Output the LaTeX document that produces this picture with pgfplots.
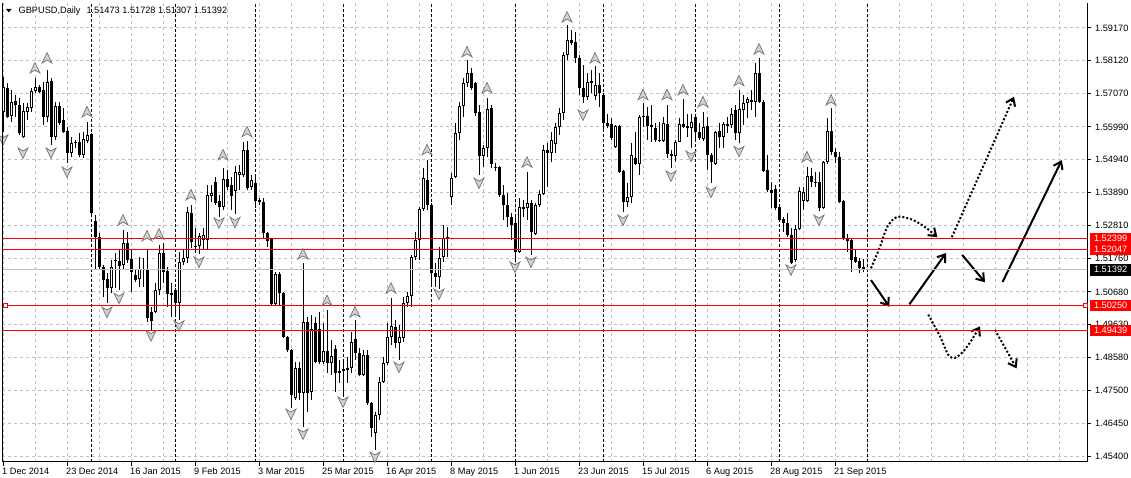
\documentclass[border=0pt]{standalone}
\usepackage{fontspec}
\setmainfont{Liberation Sans}
\usepackage{pgfplots}
\usepackage{pgfplotstable}
\pgfplotsset{compat=1.18}
\usetikzlibrary{arrows.meta}

\newcommand\mt{\fontsize{9.2pt}{11pt}\selectfont}
\definecolor{gridgray}{RGB}{192,192,192}
\definecolor{lvlred}{RGB}{255,0,0}

% fractal arrows
\pgfdeclareplotmark{fup}{%
  \pgfpathmoveto{\pgfqpoint{0pt}{5.5pt}}\pgfpathlineto{\pgfqpoint{5pt}{-5pt}}%
  \pgfpathlineto{\pgfqpoint{0pt}{-2pt}}\pgfpathlineto{\pgfqpoint{-5pt}{-5pt}}%
  \pgfpathclose\pgfusepathqfillstroke}
\pgfdeclareplotmark{fdn}{%
  \pgfpathmoveto{\pgfqpoint{0pt}{-5.5pt}}\pgfpathlineto{\pgfqpoint{5pt}{5pt}}%
  \pgfpathlineto{\pgfqpoint{0pt}{2pt}}\pgfpathlineto{\pgfqpoint{-5pt}{5pt}}%
  \pgfpathclose\pgfusepathqfillstroke}

\pgfplotsset{
  candle/.style={only marks, mark=*, mark size=0.5pt, mark options={opacity=0},
    error bars/.cd, y dir=plus, y explicit, error mark=none},
  fractal/.style={only marks, mark options={fill=gray!35, draw=gray!90!black, line width=0.7pt}},
  level/.style={line width=1pt, mark=none},
}

% daily bars, index 0 = 1 Dec 2014; hollow (up) bars
\pgfplotstableread{
i o h l c
0 1.5647 1.5759 1.5583 1.5727
2 1.5634 1.5718 1.5615 1.5679
5 1.5567 1.5676 1.5563 1.5650
6 1.5647 1.5676 1.5621 1.5663
7 1.5660 1.5724 1.5647 1.5714
8 1.5714 1.5756 1.5708 1.5727
11 1.5630 1.5782 1.5615 1.5743
13 1.5567 1.5679 1.5557 1.5666
17 1.5515 1.5567 1.5502 1.5547
20 1.5509 1.5583 1.5499 1.5560
21 1.5554 1.5615 1.5547 1.5573
27 1.5080 1.5171 1.5064 1.5148
30 1.5155 1.5267 1.5139 1.5225
34 1.5109 1.5180 1.5084 1.5142
38 1.5003 1.5097 1.5000 1.5074
39 1.5074 1.5219 1.5058 1.5194
44 1.5032 1.5196 1.4978 1.5164
45 1.5164 1.5203 1.5155 1.5177
46 1.5177 1.5341 1.5161 1.5325
49 1.5216 1.5258 1.5190 1.5248
50 1.5235 1.5273 1.5203 1.5251
51 1.5235 1.5412 1.5203 1.5380
52 1.5377 1.5412 1.5357 1.5386
55 1.5341 1.5467 1.5332 1.5431
58 1.5393 1.5473 1.5320 1.5454
59 1.5444 1.5476 1.5396 1.5454
60 1.5444 1.5551 1.5438 1.5525
62 1.5405 1.5444 1.5396 1.5428
68 1.5029 1.5132 1.5026 1.5126
73 1.4726 1.4842 1.4720 1.4823
75 1.4743 1.5161 1.4633 1.4971
77 1.4746 1.4994 1.4720 1.4949
80 1.4842 1.4968 1.4836 1.4878
82 1.4839 1.4913 1.4801 1.4862
87 1.4823 1.4939 1.4807 1.4907
90 1.4801 1.4881 1.4797 1.4865
93 1.4614 1.4682 1.4560 1.4672
94 1.4672 1.4794 1.4656 1.4778
95 1.4778 1.4858 1.4775 1.4839
96 1.4839 1.4968 1.4833 1.4923
97 1.4923 1.5048 1.4897 1.4959
99 1.4904 1.4962 1.4849 1.4923
100 1.4920 1.5052 1.4907 1.5032
101 1.5032 1.5068 1.5019 1.5055
102 1.5055 1.5187 1.5019 1.5180
103 1.5180 1.5261 1.5171 1.5235
104 1.5235 1.5341 1.5171 1.5335
105 1.5335 1.5467 1.5328 1.5434
109 1.5116 1.5212 1.5077 1.5177
110 1.5180 1.5283 1.5164 1.5242
112 1.5374 1.5450 1.5348 1.5434
113 1.5438 1.5611 1.5434 1.5579
114 1.5579 1.5679 1.5557 1.5666
115 1.5666 1.5756 1.5630 1.5740
116 1.5740 1.5814 1.5727 1.5772
120 1.5505 1.5541 1.5470 1.5531
121 1.5531 1.5692 1.5502 1.5656
129 1.5196 1.5370 1.5194 1.5341
131 1.5338 1.5454 1.5299 1.5354
133 1.5254 1.5354 1.5251 1.5348
134 1.5348 1.5396 1.5341 1.5383
135 1.5383 1.5541 1.5380 1.5525
137 1.5515 1.5583 1.5486 1.5557
138 1.5544 1.5611 1.5515 1.5599
139 1.5599 1.5660 1.5573 1.5644
140 1.5644 1.5840 1.5621 1.5830
141 1.5830 1.5927 1.5814 1.5878
146 1.5695 1.5772 1.5685 1.5743
148 1.5698 1.5795 1.5685 1.5734
153 1.5534 1.5605 1.5531 1.5602
156 1.5357 1.5418 1.5341 1.5374
157 1.5374 1.5547 1.5354 1.5509
159 1.5479 1.5637 1.5444 1.5630
165 1.5554 1.5630 1.5551 1.5611
168 1.5505 1.5557 1.5486 1.5551
169 1.5551 1.5627 1.5551 1.5608
172 1.5596 1.5640 1.5531 1.5615
175 1.5560 1.5647 1.5554 1.5599
178 1.5479 1.5586 1.5476 1.5583
180 1.5567 1.5615 1.5531 1.5608
182 1.5605 1.5660 1.5596 1.5640
184 1.5579 1.5718 1.5547 1.5656
185 1.5653 1.5702 1.5605 1.5676
186 1.5676 1.5695 1.5627 1.5689
188 1.5679 1.5804 1.5630 1.5772
198 1.5171 1.5283 1.5164 1.5270
199 1.5270 1.5405 1.5267 1.5393
200 1.5360 1.5405 1.5332 1.5389
201 1.5360 1.5470 1.5357 1.5441
205 1.5338 1.5490 1.5335 1.5486
206 1.5486 1.5627 1.5479 1.5586
}\bull

% filled (down) bars and very small bodies
\pgfplotstableread{
i o h l c
1 1.5724 1.5740 1.5627 1.5630
3 1.5682 1.5702 1.5630 1.5669
4 1.5669 1.5692 1.5573 1.5579
9 1.5727 1.5734 1.5708 1.5711
10 1.5718 1.5743 1.5605 1.5630
12 1.5747 1.5756 1.5541 1.5567
14 1.5666 1.5679 1.5605 1.5611
15 1.5621 1.5660 1.5579 1.5583
16 1.5586 1.5599 1.5483 1.5515
18 1.5551 1.5557 1.5531 1.5547
19 1.5551 1.5579 1.5502 1.5509
22 1.5576 1.5579 1.5315 1.5322
23 1.5296 1.5315 1.5139 1.5245
24 1.5245 1.5258 1.5139 1.5148
25 1.5148 1.5155 1.5052 1.5106
26 1.5109 1.5129 1.5032 1.5080
28 1.5168 1.5194 1.5080 1.5171
29 1.5168 1.5203 1.5074 1.5151
31 1.5225 1.5261 1.5161 1.5171
32 1.5174 1.5203 1.5068 1.5132
33 1.5122 1.5139 1.5100 1.5106
35 1.5142 1.5177 1.5084 1.5139
36 1.5139 1.5203 1.4971 1.4984
37 1.5003 1.5019 1.4946 1.4974
40 1.5194 1.5225 1.5097 1.5132
41 1.5135 1.5148 1.5019 1.5061
42 1.5064 1.5097 1.4987 1.5058
43 1.5074 1.5080 1.4990 1.5032
47 1.5322 1.5348 1.5209 1.5229
48 1.5216 1.5273 1.5194 1.5212
53 1.5422 1.5438 1.5348 1.5354
54 1.5360 1.5380 1.5309 1.5341
56 1.5431 1.5460 1.5396 1.5405
57 1.5412 1.5438 1.5332 1.5377
61 1.5525 1.5555 1.5396 1.5402
63 1.5418 1.5438 1.5338 1.5360
64 1.5364 1.5370 1.5348 1.5357
65 1.5357 1.5370 1.5242 1.5258
66 1.5258 1.5261 1.5212 1.5232
67 1.5238 1.5242 1.5026 1.5029
69 1.5126 1.5132 1.5026 1.5064
70 1.5064 1.5068 1.4920 1.4923
71 1.4923 1.4926 1.4875 1.4881
72 1.4881 1.4884 1.4694 1.4736
74 1.4823 1.4842 1.4720 1.4743
76 1.4971 1.4987 1.4682 1.4743
78 1.4968 1.4987 1.4839 1.4842
79 1.4949 1.5003 1.4836 1.4842
81 1.4878 1.5010 1.4807 1.4839
83 1.4884 1.4897 1.4746 1.4807
84 1.4807 1.4849 1.4775 1.4813
85 1.4813 1.4842 1.4740 1.4820
86 1.4817 1.4858 1.4775 1.4823
88 1.4916 1.4978 1.4849 1.4871
89 1.4871 1.4887 1.4797 1.4801
91 1.4865 1.4881 1.4704 1.4711
92 1.4711 1.4714 1.4601 1.4630
98 1.4955 1.4978 1.4887 1.4904
106 1.5428 1.5492 1.5332 1.5348
107 1.5348 1.5354 1.5090 1.5129
108 1.5129 1.5161 1.5084 1.5116
111 1.5245 1.5277 1.5180 1.5238
117 1.5772 1.5788 1.5718 1.5724
118 1.5740 1.5743 1.5634 1.5644
119 1.5647 1.5669 1.5444 1.5505
122 1.5660 1.5669 1.5467 1.5479
123 1.5470 1.5483 1.5457 1.5466
124 1.5470 1.5472 1.5374 1.5380
125 1.5380 1.5412 1.5299 1.5348
126 1.5348 1.5386 1.5277 1.5309
127 1.5309 1.5322 1.5235 1.5283
128 1.5290 1.5315 1.5164 1.5196
130 1.5335 1.5364 1.5309 1.5341
132 1.5354 1.5364 1.5187 1.5261
136 1.5525 1.5547 1.5405 1.5515
142 1.5878 1.5911 1.5862 1.5869
143 1.5872 1.5904 1.5804 1.5820
144 1.5820 1.5830 1.5702 1.5724
145 1.5724 1.5798 1.5676 1.5695
147 1.5740 1.5782 1.5708 1.5746
149 1.5734 1.5772 1.5663 1.5708
150 1.5702 1.5708 1.5589 1.5611
151 1.5611 1.5640 1.5596 1.5602
152 1.5608 1.5627 1.5557 1.5563
154 1.5602 1.5605 1.5450 1.5454
155 1.5457 1.5460 1.5325 1.5357
158 1.5499 1.5583 1.5476 1.5479
160 1.5630 1.5676 1.5599 1.5634
161 1.5634 1.5663 1.5557 1.5602
162 1.5605 1.5669 1.5551 1.5599
163 1.5596 1.5611 1.5551 1.5557
164 1.5557 1.5615 1.5551 1.5554
166 1.5608 1.5669 1.5499 1.5512
167 1.5512 1.5525 1.5467 1.5505
170 1.5608 1.5689 1.5596 1.5599
171 1.5602 1.5640 1.5567 1.5596
173 1.5630 1.5637 1.5557 1.5583
174 1.5583 1.5611 1.5557 1.5563
176 1.5602 1.5630 1.5460 1.5509
177 1.5509 1.5515 1.5418 1.5486
179 1.5586 1.5611 1.5531 1.5567
181 1.5602 1.5630 1.5579 1.5608
183 1.5653 1.5669 1.5557 1.5579
187 1.5685 1.5718 1.5653 1.5679
189 1.5772 1.5820 1.5676 1.5679
190 1.5679 1.5685 1.5454 1.5457
191 1.5460 1.5509 1.5389 1.5396
192 1.5396 1.5422 1.5338 1.5386
193 1.5399 1.5412 1.5332 1.5338
194 1.5341 1.5344 1.5293 1.5299
195 1.5303 1.5309 1.5261 1.5290
196 1.5290 1.5322 1.5245 1.5251
197 1.5251 1.5273 1.5158 1.5161
202 1.5441 1.5467 1.5405 1.5422
203 1.5422 1.5454 1.5405 1.5418
204 1.5422 1.5454 1.5328 1.5338
207 1.5586 1.5660 1.5509 1.5518
208 1.5518 1.5531 1.5483 1.5502
209 1.5502 1.5518 1.5354 1.5357
210 1.5360 1.5364 1.5235 1.5238
211 1.5238 1.5254 1.5196 1.5232
212 1.5235 1.5238 1.5132 1.5171
213 1.5180 1.5203 1.5161 1.5164
214 1.5168 1.5177 1.5129 1.5145
215 1.51473 1.51728 1.51307 1.51392
}\solid

% fractals
\pgfplotstableread{
i p
8 1.5788
11 1.5820
21 1.5647
30 1.5299
36 1.5248
39 1.5254
47 1.5380
55 1.5509
61 1.5583
75 1.5190
81 1.5040
88 1.5003
97 1.5080
106 1.5525
116 1.5840
121 1.5724
131 1.5485
141 1.5952
148 1.5820
160 1.5702
166 1.5702
170 1.5718
175 1.5679
184 1.5747
189 1.5849
201 1.5502
207 1.5685
}\upfr
\pgfplotstableread{
i p
0 1.5557
5 1.5515
12 1.5515
16 1.5454
26 1.5003
29 1.5048
37 1.4927
44 1.4959
49 1.5164
54 1.5290
58 1.5292
72 1.4675
75 1.4611
85 1.4714
93 1.4537
99 1.4826
109 1.5061
119 1.5418
128 1.5148
132 1.5164
145 1.5637
155 1.5299
167 1.5441
172 1.5505
177 1.5389
184 1.5520
197 1.5139
204 1.5299
}\dnfr

\begin{document}
\begin{tikzpicture}
\begin{axis}[
  width=1085pt, height=459pt, scale only axis,
  xmin=-0.25, xmax=271, ymin=1.45208, ymax=1.59974,
  axis x line*=bottom, axis y line*=right,
  axis line style={line width=1pt},
  tick style={black, line width=1pt},
  tick align=outside, major tick length=4pt, minor tick length=0pt,
  xtick={0,16,...,208},
  xticklabels={1 Dec 2014,23 Dec 2014,16 Jan 2015,9 Feb 2015,3 Mar 2015,25 Mar 2015,16 Apr 2015,8 May 2015,1 Jun 2015,23 Jun 2015,15 Jul 2015,6 Aug 2015,28 Aug 2015,21 Sep 2015},
  minor xtick={8,16,...,264},
  ytick={1.5917,1.5812,1.5707,1.5599,1.5494,1.5389,1.5281,1.5176,1.5068,1.4963,1.4858,1.4750,1.4645,1.4540},
  yticklabels={1.59170,1.58120,1.57070,1.55990,1.54940,1.53890,1.52810,1.51760,1.50680,1.49630,1.48580,1.47500,1.46450,1.45400},
  grid=both,
  major grid style={gridgray, line width=1pt, dash pattern=on 3pt off 3pt},
  minor grid style={gridgray, line width=1pt, dash pattern=on 3pt off 3pt},
  extra x ticks={22,43,63,85,107,128,150,173,194,216},
  extra x tick labels={},
  extra x tick style={grid=major, major grid style={black, line width=1pt, dash pattern=on 3pt off 2pt}, major tick length=0pt},
  tick label style={font=\mt},
  xticklabel style={anchor=north west, inner sep=0pt, xshift=-1pt, yshift=-2pt},
  yticklabel style={anchor=west, inner sep=0pt, xshift=4pt},
]
% wicks
\addplot[candle, error bar style={black, line width=1pt}]
  table[x=i, y=l, y error expr=\thisrow{h}-\thisrow{l}] {\bull};
\addplot[candle, error bar style={black, line width=1pt}]
  table[x=i, y=l, y error expr=\thisrow{h}-\thisrow{l}] {\solid};
% bodies
\addplot[candle, error bar style={black, line width=3pt}]
  table[x=i, y=c, y error expr=\thisrow{o}-\thisrow{c}] {\solid};
\addplot[candle, error bar style={black, line width=3pt}]
  table[x=i, y=o, y error expr=\thisrow{c}-\thisrow{o}] {\bull};
\addplot[candle, error bar style={white, line width=1pt, shorten <=1pt, shorten >=1pt}]
  table[x=i, y=o, y error expr=\thisrow{c}-\thisrow{o}] {\bull};
% fractals
\addplot[fractal, mark=fup] table[x=i, y=p] {\upfr};
\addplot[fractal, mark=fdn] table[x=i, y=p] {\dnfr};
% scenario arrows
\addplot[black, line width=2pt, -{Straight Barb[length=7pt, width=10pt]}] coordinates {(217,1.5106) (221.6,1.5020)};
\addplot[black, line width=2pt, -{Straight Barb[length=7pt, width=10pt]}] coordinates {(226.6,1.5028) (235.75,1.5193)};
\addplot[black, line width=2pt, -{Straight Barb[length=7pt, width=10pt]}] coordinates {(239.8,1.5187) (245.5,1.5099)};
\addplot[black, line width=2pt, -{Straight Barb[length=7pt, width=10pt]}] coordinates {(249.9,1.5100) (264.7,1.5492)};
\addplot[black, line width=2pt, dash pattern=on 2pt off 2pt, smooth, -{Straight Barb[length=7pt, width=10pt]}]
  coordinates {(217,1.5144) (219.25,1.5213) (220.9,1.5273) (222.6,1.5302) (224.25,1.5310) (227.6,1.5299) (230.9,1.5273) (233.6,1.5244)};
\addplot[black, line width=2pt, dash pattern=on 2pt off 2pt, -{Straight Barb[length=7pt, width=10pt]}]
  coordinates {(237.2,1.5244) (252.75,1.5696)};
\addplot[black, line width=2pt, dash pattern=on 2pt off 2pt, smooth, -{Straight Barb[length=7pt, width=10pt]}]
  coordinates {(231.3,1.4995) (234.25,1.4925) (236.3,1.4866) (238,1.4856) (240.1,1.4877) (242.2,1.4914) (244.25,1.4957)};
\addplot[black, line width=2pt, dash pattern=on 2pt off 2pt, -{Straight Barb[length=7pt, width=10pt]}]
  coordinates {(248,1.4946) (253.4,1.4822)};
% price levels
\addplot[level, color=lvlred] coordinates {(-1,1.52399) (272,1.52399)};
\addplot[level, color=lvlred] coordinates {(-1,1.52050) (272,1.52050)};
\addplot[level, color=gridgray] coordinates {(-1,1.51398) (272,1.51398)};
\addplot[level, color=lvlred] coordinates {(-1,1.50250) (272,1.50250)};
\addplot[level, color=lvlred] coordinates {(-1,1.49439) (272,1.49439)};
\coordinate (s1) at (axis cs:0.6,1.50250);
\coordinate (s2) at (axis cs:270.6,1.50250);
\coordinate (q1) at (axis cs:271,1.52399);
\coordinate (q2) at (axis cs:271,1.52047);
\coordinate (q3) at (axis cs:271,1.51392);
\coordinate (q4) at (axis cs:271,1.50250);
\coordinate (q5) at (axis cs:271,1.49439);
\end{axis}
\draw[line width=1pt] (0,0) -- (0,459pt);
% handles of the selected 1.50250 line
\foreach \s in {s1,s2}
  \node[draw=lvlred, fill=white, line width=1pt, inner sep=0pt, minimum size=4pt] at (\s) {};
\foreach \q/\t/\c in {q1/1.52399/lvlred, q2/1.52047/lvlred, q3/1.51392/black, q4/1.50250/lvlred, q5/1.49439/lvlred}
  \node[fill=\c, text=white, font=\mt, inner sep=0pt, minimum width=41pt, minimum height=11.5pt, anchor=west] at ([xshift=3pt]\q) {\t};
\fill (4pt,453pt) -- (9.5pt,453pt) -- (6.75pt,449.5pt) -- cycle;
\node[anchor=base west, inner sep=0pt, font=\mt] at (16.5pt,448pt) {GBPUSD,Daily\hspace{6pt}1.51473 1.51728 1.51307 1.51392};
\pgfresetboundingbox
\path[use as bounding box] (-2pt,-16pt) rectangle (1129pt,462pt);
\end{tikzpicture}
\end{document}
